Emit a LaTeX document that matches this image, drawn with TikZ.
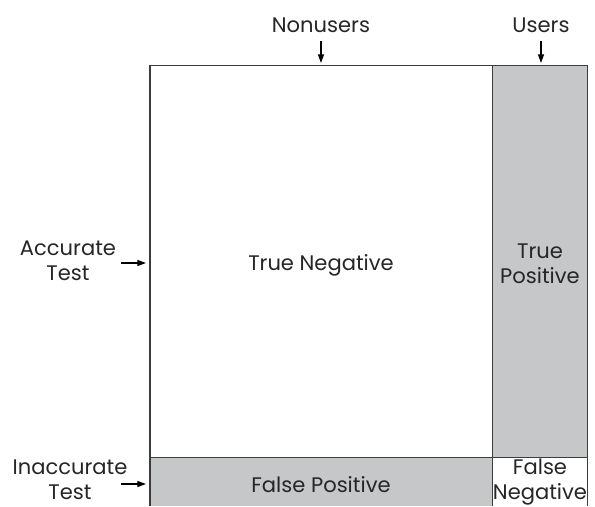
\documentclass[tikz,border=0pt]{standalone}
\usepackage{fontspec}
\setmainfont{Poppins}
\usetikzlibrary{arrows.meta}
\definecolor{cellgray}{RGB}{198,199,200}
\definecolor{linegray}{RGB}{60,60,60}
\tikzset{every picture/.style={line width=0.75pt}}
\tikzset{
  lbl/.style={inner sep=0.75pt, font=\fontsize{15.8}{18.8}\selectfont, text=black!85, align=center},
  cell/.style={draw=linegray, line width=1pt},
  pointer/.style={draw=black, line width=0.9pt, -{Triangle[length=6.5pt,width=4.5pt]}}
}

\begin{document}
\begin{tikzpicture}[x=0.75pt,y=0.75pt,yscale=-1,xscale=1]
\useasboundingbox (0,0) rectangle (595,506);

%Shape: cells
\fill [cellgray] (492.7,65.7) rectangle (587.5,457.7);
\fill [cellgray] (150,457.7) rectangle (492.7,506);
\draw [cell] (150,506) -- (150,65.7) -- (587.5,65.7) -- (587.5,506);
\draw [cell] (492.7,65.7) -- (492.7,506);
\draw [cell] (150,457.7) -- (587.5,457.7);

% Text Node
\node [lbl] (nonusers) at (321,25) {Nonusers};
\node [lbl] (users) at (541,25) {Users};
\node [lbl] (acc) at (68,261) {Accurate\\Test};
\node [lbl] (inacc) at (70,480) {Inaccurate\\Test};
\node [lbl] (tn) at (321,265) {True Negative};
\node [lbl] (tp) at (540,264) {True\\Positive};
\node [lbl] (fp) at (321,485) {False Positive};
\node [lbl] (fn) at (540,482) {False\\Negative};

%Arrows
\coordinate (nutip) at (321,63);
\coordinate (utip) at (541,63);
\coordinate (accstart) at (121,263);
\coordinate (acctip) at (146,263);
\coordinate (inaccstart) at (121,484);
\coordinate (inacctip) at (146,484);
\draw [pointer] (nonusers.south |- 0,41) -- (nutip);
\draw [pointer] (users.south |- 0,41) -- (utip);
\draw [pointer] (accstart) -- (acctip);
\draw [pointer] (inaccstart) -- (inacctip);

\end{tikzpicture}
\end{document}
